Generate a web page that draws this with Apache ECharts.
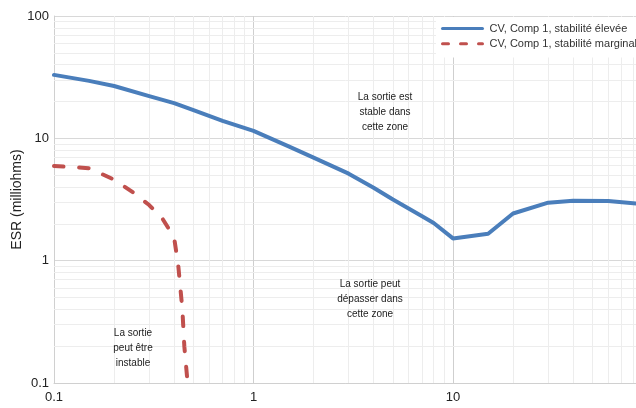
<!DOCTYPE html>
<html><head><meta charset="utf-8">
<script src="https://cdn.jsdelivr.net/npm/echarts@6/dist/echarts.min.js"></script>
<style>html,body{margin:0;padding:0;background:#fff}#c{width:636px;height:408px}</style>
</head><body><div id="c"></div>
<script>
// Data
const seriesNames = ['CV, Comp 1, stabilité élevée', 'CV, Comp 1, stabilité marginale'];
const highX = [0.1, 0.15, 0.2, 0.3, 0.4, 0.5, 0.7, 1, 1.5, 2, 3, 4, 5, 7, 8, 10, 15, 20, 30, 40, 60, 100];
const highY = [33, 29.5, 26.8, 22.1, 19.4, 17.0, 13.9, 11.5, 8.6, 6.95, 5.14, 3.95, 3.16, 2.31, 2.03, 1.52, 1.66, 2.43, 2.98, 3.09, 3.08, 2.85];
const margX = [0.1, 0.15, 0.2, 0.25, 0.3, 0.35, 0.4, 0.42, 0.44, 0.45, 0.465];
const margY = [5.95, 5.7, 4.6, 3.6, 2.85, 2.2, 1.55, 0.9, 0.4, 0.2, 0.11];
const xTicks = [0.1, 1, 10, 100];
const yTicks = [0.1, 1, 10, 100];
const minorVals = [2, 3, 4, 5, 6, 7, 8, 9];
const decades = [0.1, 1, 10];
const annotations = [
  'La sortie est\nstable dans\ncette zone',
  'La sortie peut\ndépasser dans\ncette zone',
  'La sortie\npeut être\ninstable'
];

const minorLines = [];
decades.forEach(d => minorVals.forEach(m => {
  const v = +(d * m).toPrecision(3);
  minorLines.push({ xAxis: v });
  minorLines.push({ yAxis: v });
}));

const chart = echarts.init(document.getElementById('c'));
function ann(text, x, y) {
  return {
    type: 'text', x: x, y: y, z: 10, silent: true,
    style: { text: text, fill: '#222', fontSize: 10, fontFamily: '"Liberation Sans", Arial, sans-serif',
      textAlign: 'center', textVerticalAlign: 'top', lineHeight: 15 }
  };
}
chart.setOption({
  animation: false,
  textStyle: { fontFamily: '"Liberation Sans", Arial, sans-serif' },
  grid: { left: 54, right: -16.5, top: 16, bottom: 25, containLabel: false, outerBoundsMode: 'none' },
  xAxis: {
    type: 'log', logBase: 10, min: xTicks[0], max: xTicks[xTicks.length - 1],
    axisLine: { show: true, lineStyle: { color: '#d0d0d0', width: 1 } },
    axisTick: { show: false },
    axisLabel: { color: '#222', fontSize: 13, margin: 8, formatter: v => String(+v.toPrecision(3)) },
    splitLine: { show: true, lineStyle: { color: '#cfcfcf', width: 1 } },
    minorTick: { show: false }
  },
  yAxis: {
    type: 'log', logBase: 10, min: yTicks[0], max: yTicks[yTicks.length - 1],
    name: 'ESR (milliohms)', nameLocation: 'middle', nameGap: 30, nameMoveOverlap: false,
    nameTextStyle: { color: '#222', fontSize: 14 },
    axisLine: { show: true, lineStyle: { color: '#d0d0d0', width: 1 } },
    axisTick: { show: false },
    axisLabel: { color: '#222', fontSize: 13, margin: 5, formatter: v => String(+v.toPrecision(3)) },
    splitLine: { show: true, lineStyle: { color: '#d8d8d8', width: 1 } }
  },
  legend: {
    data: [
      { name: seriesNames[0], itemStyle: { opacity: 0 }, lineStyle: { width: 3, color: '#4a7ebb' } },
      { name: seriesNames[1], itemStyle: { opacity: 0 }, lineStyle: { width: 3, color: '#c0504d', type: [6, 12], cap: 'round' } }
    ],
    orient: 'vertical', left: 436, top: 17,
    padding: [6, 5, 8, 5], backgroundColor: '#fff',
    itemWidth: 40, itemHeight: 14, itemGap: 4,
    textStyle: { color: '#333', fontSize: 11, padding: [0, 0, 0, 2] }
  },
  graphic: [
    ann(annotations[0], 385, 90),
    ann(annotations[1], 370, 277),
    ann(annotations[2], 133, 326)
  ],
  series: [
    {
      name: 'minor-grid', type: 'line', data: [], z: 1, silent: true,
      markLine: {
        silent: true, symbol: ['none', 'none'], z: 1, animation: false,
        label: { show: false },
        lineStyle: { color: '#ededed', width: 1, type: 'solid' },
        emphasis: { disabled: true },
        data: minorLines
      }
    },
    {
      name: seriesNames[0], type: 'line', z: 3, symbol: 'none', smooth: false,
      lineStyle: { color: '#4a7ebb', width: 4, cap: 'round', join: 'round' },
      itemStyle: { color: '#4a7ebb' },
      data: highX.map((x, i) => [x, highY[i]])
    },
    {
      name: seriesNames[1], type: 'line', z: 3, symbol: 'none', smooth: false,
      lineStyle: { color: '#c0504d', width: 4, type: [9.5, 15.7], cap: 'round', join: 'round' },
      itemStyle: { color: '#c0504d' },
      data: margX.map((x, i) => [x, margY[i]])
    }
  ]
});
</script></body></html>
